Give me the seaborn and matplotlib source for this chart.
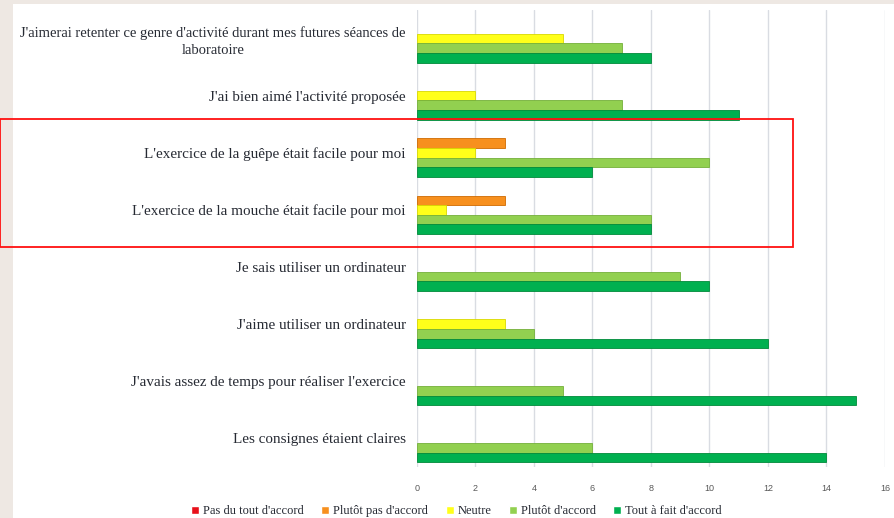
import numpy as np
import pandas as pd
import seaborn as sns
import matplotlib.pyplot as plt
from matplotlib.patches import Rectangle

# ---- data ----
questions = [
    "J'aimerai retenter ce genre d'activité durant mes futures séances de\nlaboratoire",
    "J'ai bien aimé l'activité proposée",
    "L'exercice de la guêpe était facile pour moi",
    "L'exercice de la mouche était facile pour moi",
    "Je sais utiliser un ordinateur",
    "J'aime utiliser un ordinateur",
    "J'avais assez de temps pour réaliser l'exercice",
    "Les consignes étaient claires",
]
answers = ["Pas du tout d'accord", "Plutôt pas d'accord", "Neutre",
           "Plutôt d'accord", "Tout à fait d'accord"]

pas_du_tout = [0, 0, 0, 0, 0, 0, 0, 0]
plutot_pas = [0, 0, 3, 3, 0, 0, 0, 0]
neutre = [5, 2, 2, 1, 0, 3, 0, 0]
plutot = [7, 7, 10, 8, 9, 4, 5, 6]
tout_a_fait = [8, 11, 6, 8, 10, 12, 15, 14]

colors = ["#E8101A", "#F7901E", "#FFFF1A", "#92D050", "#00B050"]
edges = ["#B00000", "#D06A00", "#D8D800", "#74B03A", "#008A3A"]

series = [pas_du_tout, plutot_pas, neutre, plutot, tout_a_fait]
rows = []
for ans, vals in zip(answers, series):
    for q, v in zip(questions, vals):
        rows.append({"question": q, "reponse": ans, "n": v})
df = pd.DataFrame(rows)

# ---- plot ----
sns.set_style("white")
plt.rcParams['font.family'] = ['Liberation Serif', 'DejaVu Serif']

fig = plt.figure(figsize=(8.95, 5.18), dpi=100)
fig.patch.set_facecolor("#EEE8E3")
fig.patches.append(Rectangle((13 / 895, 0), 1 - 13 / 895, 1 - 4 / 518,
                             transform=fig.transFigure, facecolor="white",
                             edgecolor="none", zorder=-5))

ax = fig.add_axes([417 / 895, 1 - 467 / 518, (885 - 417) / 895, (467 - 10) / 518])
ax.set_facecolor("none")

sns.barplot(data=df, y="question", x="n", hue="reponse", order=questions,
            hue_order=answers, palette=colors, width=0.84, orient="h",
            saturation=1, ax=ax)

# bar edges per series, hide zero bars
for cont, ec in zip(ax.containers, edges):
    for p in cont:
        if p.get_width() == 0:
            p.set_linewidth(0)
        else:
            p.set_edgecolor(ec)
            p.set_linewidth(0.6)

ax.set_xlim(0, 16)
ax.set_xticks(np.arange(0, 17, 2))
ax.grid(axis="x", color="#D9DCE2", linewidth=1.0)
ax.set_axisbelow(True)
for s in ax.spines.values():
    s.set_visible(False)
ax.set_xlabel("")
ax.set_ylabel("")
ax.tick_params(axis="x", length=0, pad=12, labelsize=6.5, labelcolor="#595959")
ax.tick_params(axis="y", length=0, pad=8, labelsize=10.9, labelcolor="#262a33")
for lab in ax.get_xticklabels():
    lab.set_family(['Liberation Sans', 'DejaVu Sans'])
for lab in ax.get_yticklabels():
    lab.set_multialignment("center")
    if "\n" in lab.get_text():
        lab.set_fontsize(10.5)
        lab.set_linespacing(1.35)

handles, labels = ax.get_legend_handles_labels()
ax.get_legend().remove()
fig.legend(handles, labels, loc="lower center", ncol=5, frameon=False,
           bbox_to_anchor=(0.51, -0.02), fontsize=9, handlelength=0.65,
           handleheight=0.65, handletextpad=0.3, columnspacing=1.4,
           labelcolor="#262a33")

# red frame around the two exercise questions
fig.patches.append(Rectangle((0, 1 - 247 / 518), 793 / 895, 128 / 518,
                             transform=fig.transFigure, fill=False,
                             edgecolor="#FF1010", linewidth=1.3, zorder=5))

fig.savefig("out.png", dpi=100, facecolor=fig.get_facecolor())
